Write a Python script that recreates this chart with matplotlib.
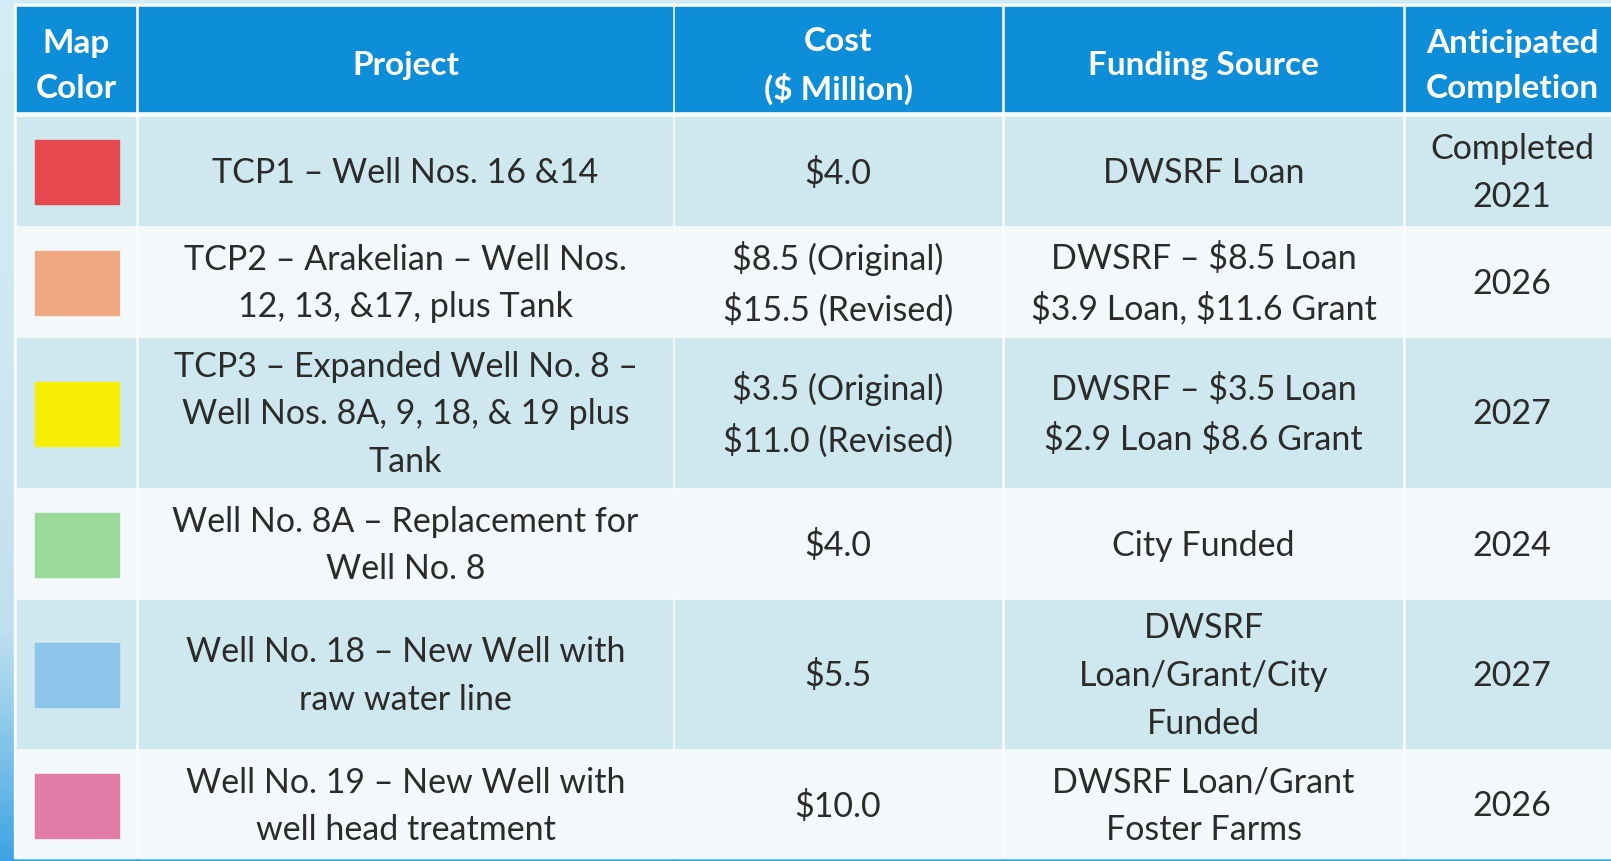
import matplotlib.pyplot as plt
import numpy as np
from matplotlib.patches import Rectangle
from matplotlib.colors import LinearSegmentedColormap

# Table content
headers = ['Map\nColor', 'Project', 'Cost\n($ Million)', 'Funding Source', 'Anticipated\nCompletion']
map_colors = ['#e5494f', '#f0a983', '#f7ee05', '#9bd99a', '#8dc5ea', '#e27ba6']
projects = [
    'TCP1 – Well Nos. 16 &14',
    'TCP2 – Arakelian – Well Nos.\n12, 13, &17, plus Tank',
    'TCP3 – Expanded Well No. 8 –\nWell Nos. 8A, 9, 18, & 19 plus\nTank',
    'Well No. 8A – Replacement for\nWell No. 8',
    'Well No. 18 – New Well with\nraw water line',
    'Well No. 19 – New Well with\nwell head treatment',
]
costs = [
    '$4.0',
    '$8.5 (Original)\n$15.5 (Revised)',
    '$3.5 (Original)\n$11.0 (Revised)',
    '$4.0',
    '$5.5',
    '$10.0',
]
funding = [
    'DWSRF Loan',
    'DWSRF – $8.5 Loan\n$3.9 Loan, $11.6 Grant',
    'DWSRF – $3.5 Loan\n$2.9 Loan $8.6 Grant',
    'City Funded',
    'DWSRF\nLoan/Grant/City\nFunded',
    'DWSRF Loan/Grant\nFoster Farms',
]
completion = ['Completed\n2021', '2026', '2027', '2024', '2027', '2026']

W, H = 1611, 861
fig = plt.figure(figsize=(W / 100, H / 100), dpi=100)
ax = fig.add_axes([0, 0, 1, 1])
ax.set_xlim(0, W)
ax.set_ylim(H, 0)
ax.axis('off')

# background gradient (light at top, stronger blue at bottom)
bg = LinearSegmentedColormap.from_list('bg', ['#d3ebf3', '#bfe0ee', '#3ba3e3'])
grad = np.linspace(0, 1, 256).reshape(-1, 1) ** 2.2
ax.imshow(grad, cmap=bg, extent=[0, W, H, 0], aspect='auto', zorder=0)

# layout in pixels
col_edges = [(17, 135), (139, 672), (675, 1001), (1005, 1402), (1406, 1625)]
header_y = (7, 111)
row_y = [(117, 225), (228, 335), (338, 487), (490, 597), (600, 748), (751, 858)]

ax.add_patch(Rectangle((14, 4), W, 854, color='#f7fbfc', zorder=1))

header_color = '#0e8ed8'
row_colors = ['#cfe7ee', '#f3f9fa']
text_color = '#2b2b2b'
font = 'Lato'

for j, (x0, x1) in enumerate(col_edges):
    ax.add_patch(Rectangle((x0, header_y[0]), x1 - x0, header_y[1] - header_y[0],
                           color=header_color, zorder=2))
    cx = (x0 + x1) / 2 if j < 4 else 1512
    ax.text(cx, (header_y[0] + header_y[1]) / 2 + 7, headers[j], ha='center', va='center',
            color='white', fontsize=24, fontweight='bold', family=font,
            linespacing=1.66, parse_math=False, zorder=3)

for i, (y0, y1) in enumerate(row_y):
    fc = row_colors[i % 2]
    cy = (y0 + y1) / 2
    for j, (x0, x1) in enumerate(col_edges):
        ax.add_patch(Rectangle((x0, y0), x1 - x0, y1 - y0, color=fc, zorder=2))
    # color swatch
    ax.add_patch(Rectangle((35, cy - 31), 84, 64, color=map_colors[i], zorder=3))
    cells = [projects[i], costs[i], funding[i], completion[i]]
    for j, txt in enumerate(cells, start=1):
        x0, x1 = col_edges[j]
        cx = (x0 + x1) / 2 if j < 4 else 1512
        ax.text(cx, cy + 2, txt, ha='center', va='center', color=text_color,
                fontsize=24.5, family=font, linespacing=1.6, parse_math=False, zorder=3)

fig.savefig('out.png', dpi=100)
